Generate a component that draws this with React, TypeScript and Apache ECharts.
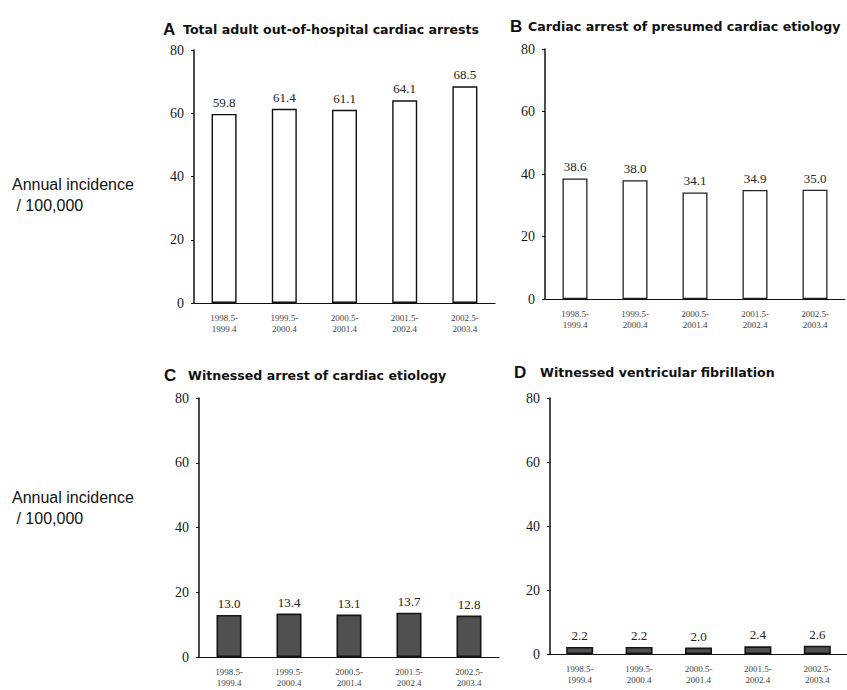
import React, { useEffect, useRef } from "react";
import * as echarts from "echarts";

const categories = [
  "1998.5-\n1999.4",
  "1999.5-\n2000.4",
  "2000.5-\n2001.4",
  "2001.5-\n2002.4",
  "2002.5-\n2003.4",
];
const totalArrests = [59.8, 61.4, 61.1, 64.1, 68.5];
const presumedCardiac = [38.6, 38.0, 34.1, 34.9, 35.0];
const witnessedCardiac = [13.0, 13.4, 13.1, 13.7, 12.8];
const witnessedVF = [2.2, 2.2, 2.0, 2.4, 2.6];
const yMin = 0;
const yMax = 80;
const yInterval = 20;
const panelLetters = ["A", "B", "C", "D"];
const panelTitles = [
  "Total adult out-of-hospital cardiac arrests",
  "Cardiac arrest of presumed cardiac etiology",
  "Witnessed arrest of cardiac etiology",
  "Witnessed ventricular fibrillation",
];
const yAxisTitle = ["Annual incidence", " / 100,000"];

const panelData = [totalArrests, presumedCardiac, witnessedCardiac, witnessedVF];

const grids = [
  { left: 194, top: 50, width: 301, height: 253 },
  { left: 545, top: 49, width: 300, height: 250 },
  { left: 199, top: 398, width: 300, height: 259 },
  { left: 550, top: 398, width: 298, height: 256 },
];
const barWidths = [25, 25, 25, 27];
const titlePos = [
  { lx: 163, tx: 183, y: 29 },
  { lx: 510, tx: 528, y: 26 },
  { lx: 164, tx: 188, y: 375 },
  { lx: 514, tx: 540, y: 372 },
];
const openStyle = { color: "#ffffff", borderColor: "#111111", borderWidth: 1.4 };
const dottedStyle = { color: "#ffffff", borderColor: "#222222", borderWidth: 1.3 };
const filledStyle = { color: "#505050", borderColor: "#151515", borderWidth: 1.6 };
const barStyles = [openStyle, dottedStyle, filledStyle, filledStyle];

export default function App() {
  const ref = useRef<HTMLDivElement>(null);
  useEffect(() => {
    document.body.style.margin = "0";
    if (!ref.current) return;
    const chart = echarts.init(ref.current, null, { renderer: "svg" });

    const serif = "Liberation Serif";
    const sans = '"DejaVu Sans", "Liberation Sans", sans-serif';

    const graphic: any[] = [];
    panelLetters.forEach((l, i) => {
      graphic.push({
        type: "text",
        x: titlePos[i].lx,
        y: titlePos[i].y,
        style: {
          text: l,
          font: 'bold 17px "Liberation Sans", sans-serif',
          fill: "#111",
          verticalAlign: "middle",
          textVerticalAlign: "middle",
        },
      });
      graphic.push({
        type: "text",
        x: titlePos[i].tx,
        y: titlePos[i].y,
        style: {
          text: panelTitles[i],
          font: "bold 12.6px " + sans,
          fill: "#111",
          verticalAlign: "middle",
          textVerticalAlign: "middle",
        },
      });
    });
    [184, 497].forEach((cy) => {
      yAxisTitle.forEach((t, j) => {
        graphic.push({
          type: "text",
          x: 12,
          y: cy + j * 21,
          style: {
            text: t,
            font: '16px "Liberation Sans", Arial, sans-serif',
            fill: "#111",
            verticalAlign: "middle",
            textVerticalAlign: "middle",
          },
        });
      });
    });

    const option: any = {
      animation: false,
      backgroundColor: "#ffffff",
      textStyle: { fontFamily: serif },
      grid: grids.map((g) => ({ ...g, containLabel: false })),
      xAxis: grids.map((_, i) => ({
        type: "category",
        gridIndex: i,
        data: categories,
        boundaryGap: true,
        axisLine: { show: true, lineStyle: { color: "#111", width: 1.2 } },
        axisTick: { show: false },
        axisLabel: {
          interval: 0,
          fontFamily: serif,
          fontSize: 9,
          color: "#444",
          lineHeight: 11,
          margin: 9,
        },
        splitLine: { show: false },
      })),
      yAxis: grids.map((_, i) => ({
        type: "value",
        gridIndex: i,
        min: yMin,
        max: yMax,
        interval: yInterval,
        axisLine: { show: true, lineStyle: { color: "#111", width: 1.5 } },
        axisTick: { show: true, length: 3, lineStyle: { color: "#111" } },
        axisLabel: {
          fontFamily: serif,
          fontSize: 14,
          color: "#1a1a1a",
          margin: 10,
        },
        splitLine: { show: false },
      })),
      series: panelData.map((d, i) => ({
        type: "bar",
        xAxisIndex: i,
        yAxisIndex: i,
        data: d,
        barWidth: barWidths[i],
        itemStyle: barStyles[i],
        label: {
          show: true,
          position: "top",
          distance: 5,
          fontFamily: serif,
          fontSize: 13,
          color: "#222",
          formatter: (p: any) => Number(p.value).toFixed(1),
        },
      })),
      graphic,
    };
    chart.setOption(option);
    return () => chart.dispose();
  }, []);
  return <div ref={ref} style={{ width: 847, height: 690 }} />;
}
